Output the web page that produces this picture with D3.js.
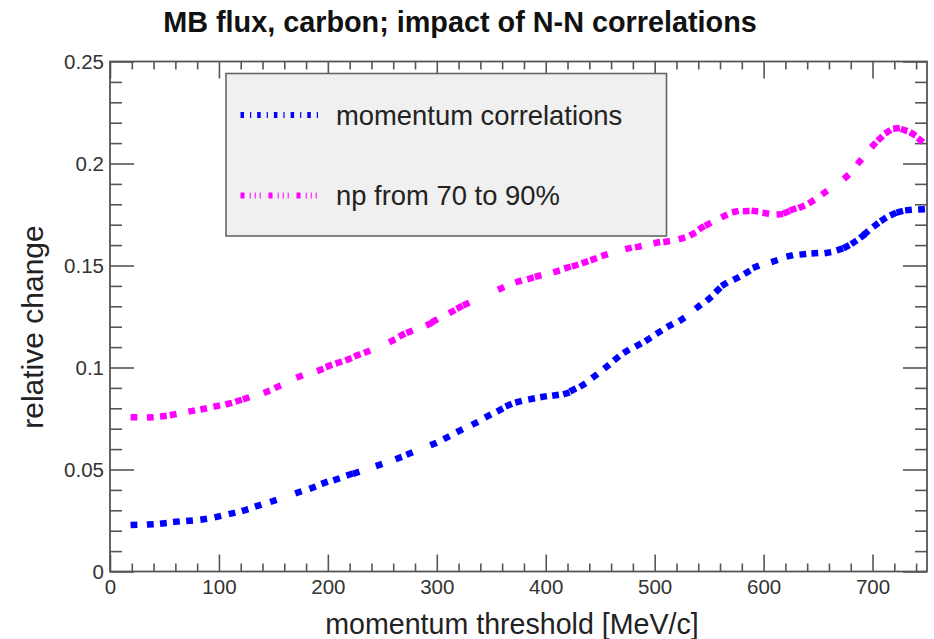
<!DOCTYPE html>
<html>
<head>
<meta charset="utf-8">
<script src="https://cdn.jsdelivr.net/npm/d3@7"></script>
<style>
  html, body { margin: 0; padding: 0; background: #fff; }
  svg { display: block; font-family: "Liberation Sans", Arial, Helvetica, sans-serif; }
</style>
</head>
<body>
<svg id="chart" width="934" height="639"></svg>
<script>
// ---- data ----
const title = "MB flux, carbon; impact of N-N correlations";
const xTitle = "momentum threshold [MeV/c]";
const yTitle = "relative change";
const seriesNames = ["momentum correlations", "np from 70 to 90%"];
const seriesColors = ["#0000ff", "#ff00ff"];

const xTicks = [0, 100, 200, 300, 400, 500, 600, 700];
const yTicks = [0, 0.05, 0.1, 0.15, 0.2, 0.25];
const yTickLabels = ["0", "0.05", "0.1", "0.15", "0.2", "0.25"];

// momentum correlations
const mcX = [22, 37, 49, 61, 73, 86, 99, 112, 124, 136, 150, 173, 186, 197, 208, 220, 226,
  247, 265, 275, 297, 309, 321, 335, 347, 358, 366, 375, 387, 398, 409, 419, 425, 434, 445,
  456, 465, 474, 485, 494, 504, 514, 525, 540, 550, 558, 564, 575, 585, 593, 610, 624, 636,
  647, 659, 670, 676, 683, 691, 694, 703, 710, 719, 725, 733, 745];
const mcY = [0.0228, 0.0231, 0.0236, 0.0244, 0.0249, 0.0256, 0.0269, 0.0285, 0.0301, 0.0323,
  0.0346, 0.0388, 0.0411, 0.0435, 0.0452, 0.0475, 0.0484, 0.0522, 0.0556, 0.0578, 0.0625,
  0.0656, 0.069, 0.0726, 0.0762, 0.0792, 0.0816, 0.0832, 0.0846, 0.0857, 0.0864, 0.0873,
  0.089, 0.0914, 0.0958, 0.1004, 0.1045, 0.108, 0.111, 0.1138, 0.1173, 0.1206, 0.1236,
  0.1298, 0.1337, 0.138, 0.1408, 0.1437, 0.1467, 0.1494, 0.1522, 0.1547, 0.1555, 0.156,
  0.1563, 0.1579, 0.1592, 0.1614, 0.1645, 0.166, 0.1699, 0.1726, 0.1752, 0.1764, 0.1772, 0.1775];

// np from 70 to 90%
const npX = [22, 37, 49, 58, 75, 86, 98, 109, 118, 125, 144, 154, 174, 193, 201, 210, 219, 227,
  236, 259, 268, 275, 293, 298, 314, 321, 327, 359, 375, 386, 393, 410, 420, 427, 436, 444,
  454, 476, 485, 502, 511, 525, 535, 543, 549, 564, 574, 584, 592, 602, 615, 621, 627, 635,
  644, 656, 676, 688, 701, 707, 714, 722, 729, 737, 744];
const npY = [0.0756, 0.0756, 0.0762, 0.0769, 0.0787, 0.0797, 0.0811, 0.0823, 0.0837, 0.0849,
  0.0881, 0.0906, 0.0956, 0.0988, 0.1008, 0.1024, 0.104, 0.106, 0.1077, 0.1131, 0.1159,
  0.1175, 0.1213, 0.1229, 0.1274, 0.1295, 0.1311, 0.1388, 0.1422, 0.1437, 0.1449, 0.1471,
  0.149, 0.15, 0.1516, 0.1531, 0.1551, 0.1584, 0.1592, 0.1612, 0.1617, 0.1633, 0.1654,
  0.1685, 0.1702, 0.1743, 0.1764, 0.1767, 0.1767, 0.1756, 0.1751, 0.1761, 0.1775, 0.1788,
  0.1813, 0.1857, 0.1935, 0.2009, 0.2091, 0.2123, 0.2156, 0.2172, 0.2164, 0.2145, 0.2115];

// ---- drawing ----
const svg = d3.select("#chart");
const L = 110, R = 927, T = 61.5, B = 571.5;
const x = d3.scaleLinear().domain([0, 750]).range([L, R]);
const y = d3.scaleLinear().domain([0, 0.25]).range([B, T]);
const axisColor = "#555";
const labelColor = "#333";

// minor tick values
const xMinor = d3.range(0, 751, 20).filter(v => v % 100 !== 0);
const yMinor = d3.range(0, 26, 1).map(v => v / 100).filter(v => Math.round(v * 100) % 5 !== 0);

function styleAxis(g) {
  g.select(".domain").remove();
  g.selectAll(".tick line").attr("stroke", axisColor).attr("stroke-width", 1.6);
  g.selectAll(".tick text").attr("fill", labelColor).attr("font-size", 20.5)
    .attr("font-family", "'Liberation Sans', Arial, sans-serif");
}

// bottom
svg.append("g").attr("transform", `translate(0,${B})`)
  .call(d3.axisBottom(x).tickValues(xMinor).tickSize(-8).tickFormat("")).call(styleAxis);
svg.append("g").attr("transform", `translate(0,${B})`)
  .call(d3.axisBottom(x).tickValues(xTicks).tickSize(-17).tickPadding(8).tickFormat(d3.format("d")))
  .call(styleAxis);
// top
svg.append("g").attr("transform", `translate(0,${T})`)
  .call(d3.axisTop(x).tickValues(xMinor).tickSize(-8).tickFormat("")).call(styleAxis);
svg.append("g").attr("transform", `translate(0,${T})`)
  .call(d3.axisTop(x).tickValues(xTicks).tickSize(-17).tickFormat("")).call(styleAxis);
// left
svg.append("g").attr("transform", `translate(${L},0)`)
  .call(d3.axisLeft(y).tickValues(yMinor).tickSize(-12).tickFormat("")).call(styleAxis);
svg.append("g").attr("transform", `translate(${L},0)`)
  .call(d3.axisLeft(y).tickValues(yTicks).tickSize(-24).tickPadding(6)
    .tickFormat((d, i) => yTickLabels[i])).call(styleAxis);
// right
svg.append("g").attr("transform", `translate(${R},0)`)
  .call(d3.axisRight(y).tickValues(yMinor).tickSize(-12).tickFormat("")).call(styleAxis);
svg.append("g").attr("transform", `translate(${R},0)`)
  .call(d3.axisRight(y).tickValues(yTicks).tickSize(-24).tickFormat("")).call(styleAxis);

// frame
svg.append("rect").attr("x", L).attr("y", T).attr("width", R - L).attr("height", B - T)
  .attr("fill", "none").attr("stroke", axisColor).attr("stroke-width", 1.8);

// series drawn as thick dash segments oriented along the curve
function drawSeries(xs, ys, color) {
  const pts = xs.map((v, i) => [x(v), y(ys[i])]);
  const segs = pts.map((p, i) => {
    const a = pts[Math.max(0, i - 1)], b = pts[Math.min(pts.length - 1, i + 1)];
    let dx = b[0] - a[0], dy = b[1] - a[1];
    const n = Math.hypot(dx, dy) || 1;
    dx /= n; dy /= n;
    const h = 3.4;
    return { x1: p[0] - dx * h, y1: p[1] - dy * h, x2: p[0] + dx * h, y2: p[1] + dy * h };
  });
  svg.append("g").selectAll("line").data(segs).join("line")
    .attr("x1", d => d.x1).attr("y1", d => d.y1).attr("x2", d => d.x2).attr("y2", d => d.y2)
    .attr("stroke", color).attr("stroke-width", 6.5).attr("stroke-linecap", "butt");
}
drawSeries(npX, npY, seriesColors[1]);
drawSeries(mcX, mcY, seriesColors[0]);

// legend
const lg = svg.append("g");
lg.append("rect").attr("x", 226).attr("y", 73.5).attr("width", 440.5).attr("height", 162.5)
  .attr("fill", "#f0f0f0").attr("stroke", "#666").attr("stroke-width", 1.6);
const legendDash = ["3.5,6,1.2,6", "4,5.2,1,4,1,4,1,7.8"];
const legendY = [115, 195.5];
seriesNames.forEach((name, i) => {
  lg.append("line").attr("x1", 240.5).attr("x2", 321).attr("y1", legendY[i]).attr("y2", legendY[i])
    .attr("stroke", seriesColors[i]).attr("stroke-width", 6).attr("stroke-dasharray", legendDash[i]);
  lg.append("text").attr("x", 336).attr("y", legendY[i] + 9.5).attr("font-size", 27.4)
    .attr("fill", "#222").text(name);
});

// titles
svg.append("text").attr("x", 460).attr("y", 32).attr("text-anchor", "middle")
  .attr("font-size", 28.8).attr("font-weight", "bold").attr("fill", "#111").text(title);
svg.append("text").attr("x", 512).attr("y", 634).attr("text-anchor", "middle")
  .attr("font-size", 28.6).attr("fill", "#222").text(xTitle);
svg.append("text").attr("transform", "translate(43,327) rotate(-90)").attr("text-anchor", "middle")
  .attr("font-size", 30).attr("fill", "#222").text(yTitle);
</script>
</body>
</html>
